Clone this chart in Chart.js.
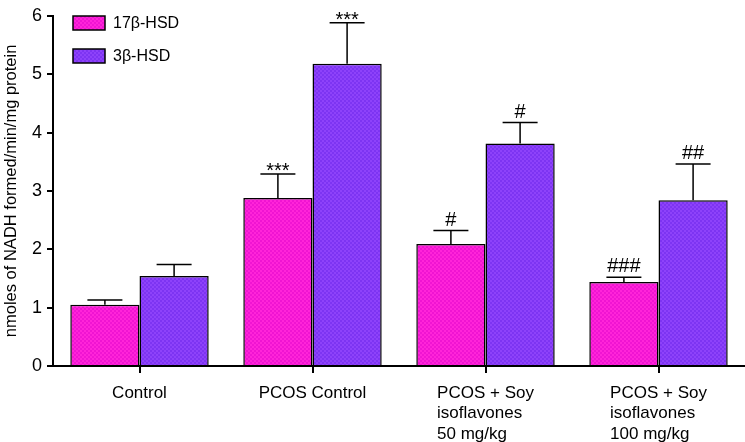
<!DOCTYPE html>
<html>
<head>
<meta charset="utf-8">
<script src="https://cdn.jsdelivr.net/npm/chart.js@4.4.1/dist/chart.umd.min.js"></script>
<style>
  html, body { margin: 0; padding: 0; background: #fff; }
  #wrap { width: 745px; height: 442px; }
</style>
</head>
<body>
<div id="wrap"><canvas id="enzymeChart" width="745" height="442"></canvas></div>
<script>
// Chart data
const groups = [["Control"], ["PCOS Control"], ["PCOS + Soy", "isoflavones", "50 mg/kg"], ["PCOS + Soy", "isoflavones", "100 mg/kg"]];
const hsd17Values = [1.05, 2.88, 2.09, 1.44];
const hsd17Errors = [0.08, 0.41, 0.23, 0.08];
const hsd17Marks = ["", "***", "#", "###"];
const hsd3Values = [1.54, 5.18, 3.81, 2.84];
const hsd3Errors = [0.20, 0.70, 0.36, 0.62];
const hsd3Marks = ["", "***", "#", "##"];
const yTicks = [0, 1, 2, 3, 4, 5, 6];

const FONT = "'Liberation Sans', Arial, sans-serif";

// small checker pattern like the original fill
function checker(c1, c2) {
    const p = document.createElement("canvas");
    p.width = 4; p.height = 4;
    const g = p.getContext("2d");
    g.fillStyle = c1; g.fillRect(0, 0, 4, 4);
    g.fillStyle = c2; g.fillRect(0, 0, 2, 2); g.fillRect(2, 2, 2, 2);
    return g.createPattern(p, "repeat");
}
const pinkFill = checker("#ff24d9", "#f014d2");
const purpleFill = checker("#8e42fa", "#7d34f2");

// error bars + significance marks
const errorBars = {
    id: "errorBars",
    afterDatasetsDraw(chart) {
        const ctx = chart.ctx;
        const y = chart.scales.y;
        const sets = [[hsd17Values, hsd17Errors, hsd17Marks], [hsd3Values, hsd3Errors, hsd3Marks]];
        sets.forEach((s, di) => {
            chart.getDatasetMeta(di).data.forEach((bar, i) => {
                const top = y.getPixelForValue(s[0][i]);
                const end = y.getPixelForValue(s[0][i] + s[1][i]);
                ctx.save();
                ctx.strokeStyle = "#000";
                ctx.lineWidth = 1.5;
                ctx.beginPath();
                ctx.moveTo(bar.x, top);
                ctx.lineTo(bar.x, end);
                ctx.moveTo(bar.x - 17.5, end);
                ctx.lineTo(bar.x + 17.5, end);
                ctx.stroke();
                if (s[2][i]) {
                    ctx.fillStyle = "#000";
                    ctx.textAlign = "center";
                    ctx.textBaseline = "alphabetic";
                    ctx.font = "20px " + FONT;
                    ctx.fillText(s[2][i], bar.x, end + (s[2][i][0] === "*" ? 3 : -5));
                }
                ctx.restore();
            });
        });
    }
};

// multi-line category labels, lines left aligned inside a centred block
const groupLabels = {
    id: "groupLabels",
    afterDraw(chart) {
        const ctx = chart.ctx;
        const x = chart.scales.x;
        ctx.save();
        ctx.font = "17px " + FONT;
        ctx.fillStyle = "#000";
        ctx.textBaseline = "middle";
        ctx.textAlign = "left";
        groups.forEach((lines, i) => {
            const cx = x.getPixelForValue(i);
            const w = Math.max(...lines.map(l => ctx.measureText(l).width));
            lines.forEach((l, k) => {
                ctx.fillText(l, cx - w / 2, 393 + k * 20.5);
            });
        });
        ctx.restore();
    }
};

// legend drawn inside the plot, top-left
const innerLegend = {
    id: "innerLegend",
    afterDraw(chart) {
        const ctx = chart.ctx;
        ctx.save();
        chart.data.datasets.forEach((ds, i) => {
            const bx = 73, by = 16 + i * 33;
            ctx.fillStyle = ds.backgroundColor;
            ctx.fillRect(bx, by, 32, 14);
            ctx.strokeStyle = "#000";
            ctx.lineWidth = 1.5;
            ctx.strokeRect(bx, by, 32, 14);
            ctx.fillStyle = "#000";
            ctx.font = "16px " + FONT;
            ctx.textAlign = "left";
            ctx.textBaseline = "middle";
            ctx.fillText(ds.label, bx + 40, by + 8);
        });
        ctx.restore();
    }
};

const ctx = document.getElementById("enzymeChart").getContext("2d");
new Chart(ctx, {
    type: "bar",
    data: {
        labels: groups.map(g => g.join(" ")),
        datasets: [
            { label: "17β-HSD", data: hsd17Values, backgroundColor: pinkFill, borderColor: "#000", borderWidth: 1.5 },
            { label: "3β-HSD", data: hsd3Values, backgroundColor: purpleFill, borderColor: "#000", borderWidth: 1.5 }
        ]
    },
    options: {
        responsive: false,
        animation: false,
        layout: { padding: { top: 15, right: 0, left: 0, bottom: 0 } },
        datasets: { bar: { categoryPercentage: 0.8, barPercentage: 1.0 } },
        plugins: { legend: { display: false }, tooltip: { enabled: false } },
        scales: {
            x: {
                grid: { offset: false, drawOnChartArea: false, drawTicks: true, tickLength: 7, color: "#000", lineWidth: 2 },
                border: { display: true, color: "#000", width: 2 },
                ticks: { display: false },
                afterFit(scale) { scale.height = 76; }
            },
            y: {
                min: 0,
                max: 6,
                afterBuildTicks(scale) { scale.ticks = yTicks.map(v => ({ value: v })); },
                grid: { drawOnChartArea: false, drawTicks: true, tickLength: 6, color: "#000", lineWidth: 2 },
                border: { display: true, color: "#000", width: 2 },
                ticks: { color: "#000", font: { family: FONT, size: 18 }, padding: 5 },
                title: {
                    display: true,
                    text: "nmoles of NADH formed/min/mg protein",
                    color: "#000",
                    font: { family: FONT, size: 16.5 },
                    padding: { top: 2, bottom: 0 }
                },
                afterFit(scale) { scale.width = 53; }
            }
        }
    },
    plugins: [errorBars, groupLabels, innerLegend]
});
</script>
</body>
</html>
